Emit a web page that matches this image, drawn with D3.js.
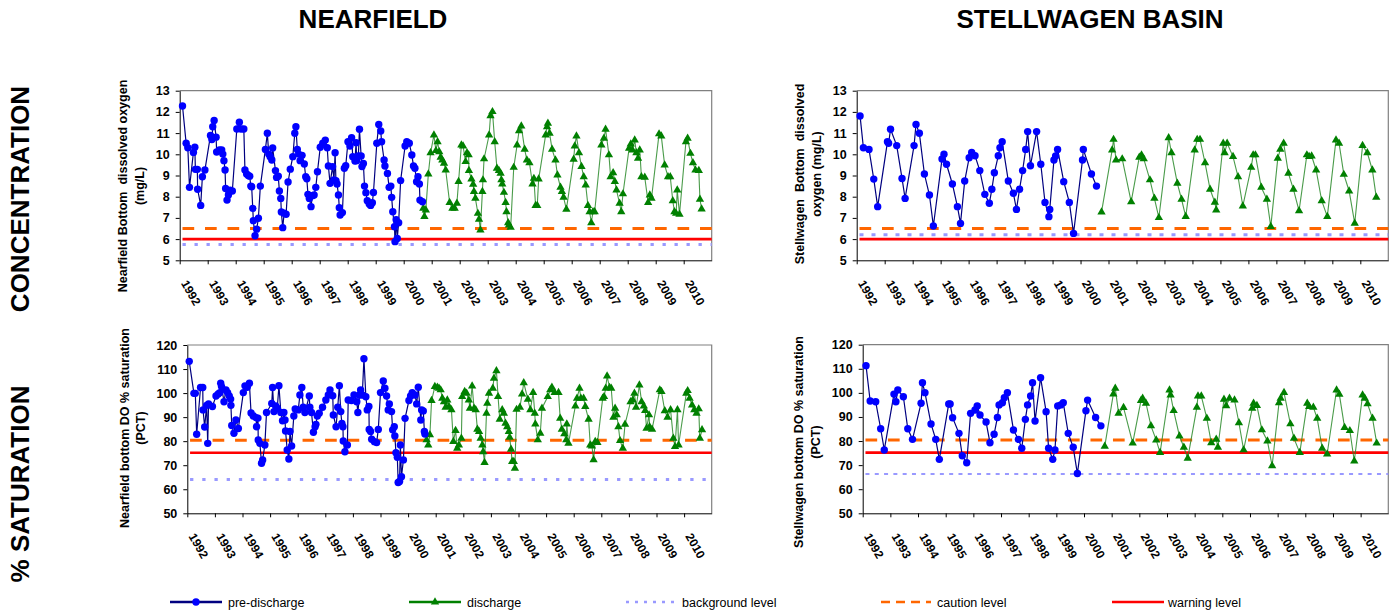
<!DOCTYPE html>
<html><head><meta charset="utf-8">
<script src="https://cdn.jsdelivr.net/npm/d3@7"></script>
<style>
body{margin:0;background:#fff;}
svg{display:block;font-family:Arial,"Liberation Sans",sans-serif;}
</style>
</head><body>
<svg id="chart" width="1393" height="616"></svg>
<script>
// ---------------- DATA ----------------
const years = [1992,1993,1994,1995,1996,1997,1998,1999,2000,2001,2002,2003,2004,2005,2006,2007,2008,2009,2010];
const concTicks = [5,6,7,8,9,10,11,12,13];
const satTicks = [50,60,70,80,90,100,110,120];
const columnTitles = ['NEARFIELD','STELLWAGEN BASIN'];
const rowTitles = ['CONCENTRATION','% SATURATION'];
const seriesNames = ['pre-discharge','discharge'];
const levelNames = ['background level','caution level','warning level'];

// levels: [background, caution, warning]
const nfConcLevels = [5.75, 6.5, 6.0];
const swConcLevels = [6.2, 6.5, 6.0];
const nfSatLevels = [64.1, 80.4, 75.2];
const swSatLevels = [66.3, 80.4, 75.2];

// [decimal year, value]
const nfConcPre = [[1992.10,12.28],[1992.23,10.52],[1992.29,10.31],[1992.35,8.44],[1992.49,10.09],[1992.54,10.33],[1992.56,9.29],[1992.63,9.29],[1992.64,8.35],[1992.75,7.59],[1992.81,8.94],[1992.90,9.26],[1993.10,10.89],[1993.15,10.70],[1993.18,11.30],[1993.23,11.60],[1993.30,10.81],[1993.32,10.11],[1993.42,10.20],[1993.50,10.20],[1993.54,10.01],[1993.58,9.70],[1993.62,9.26],[1993.64,8.39],[1993.69,7.84],[1993.74,8.08],[1993.80,8.31],[1993.88,8.27],[1994.04,11.19],[1994.13,11.51],[1994.19,11.19],[1994.29,11.19],[1994.33,9.26],[1994.39,9.07],[1994.45,9.00],[1994.50,8.97],[1994.54,8.50],[1994.57,8.47],[1994.61,7.45],[1994.63,6.87],[1994.69,6.16],[1994.75,6.47],[1994.81,6.98],[1994.88,8.50],[1995.06,10.23],[1995.13,10.99],[1995.18,10.01],[1995.23,9.89],[1995.29,9.73],[1995.32,10.30],[1995.42,9.23],[1995.46,8.91],[1995.52,8.97],[1995.56,8.27],[1995.61,7.92],[1995.63,7.28],[1995.68,6.54],[1995.73,7.22],[1995.80,7.17],[1995.87,8.69],[1995.95,9.30],[1996.04,9.89],[1996.11,10.99],[1996.15,11.30],[1996.20,10.23],[1996.25,10.01],[1996.30,9.70],[1996.37,9.95],[1996.45,9.54],[1996.50,8.94],[1996.54,8.85],[1996.58,8.11],[1996.63,7.92],[1996.69,7.53],[1996.74,8.05],[1996.80,8.08],[1996.86,8.44],[1996.92,9.18],[1997.02,10.33],[1997.11,10.52],[1997.20,10.67],[1997.27,10.31],[1997.31,9.45],[1997.37,8.63],[1997.46,9.42],[1997.51,8.79],[1997.55,10.07],[1997.58,8.76],[1997.62,8.60],[1997.67,8.08],[1997.70,7.48],[1997.73,7.14],[1997.81,7.25],[1997.88,9.34],[1997.93,9.46],[1998.01,10.59],[1998.08,10.39],[1998.14,10.78],[1998.18,9.89],[1998.26,9.68],[1998.30,10.55],[1998.32,9.70],[1998.38,9.92],[1998.42,11.18],[1998.48,9.92],[1998.51,9.42],[1998.56,9.57],[1998.60,8.50],[1998.65,8.19],[1998.70,7.81],[1998.77,7.65],[1998.82,7.59],[1998.88,7.72],[1998.92,8.20],[1999.04,10.52],[1999.11,11.41],[1999.18,11.10],[1999.21,10.59],[1999.30,9.73],[1999.33,9.45],[1999.42,9.10],[1999.48,8.44],[1999.54,8.50],[1999.57,7.97],[1999.61,7.29],[1999.67,6.58],[1999.69,5.88],[1999.73,6.91],[1999.77,6.03],[1999.82,6.77],[1999.89,8.76],[2000.05,10.39],[2000.11,10.59],[2000.20,10.52],[2000.29,9.97],[2000.35,9.45],[2000.40,9.34],[2000.46,8.71],[2000.51,8.94],[2000.56,8.60],[2000.58,7.84],[2000.67,7.76]];
const nfConcDis = [[2000.70,7.45],[2000.74,7.06],[2000.79,7.37],[2000.88,9.07],[2000.96,10.07],[2001.08,10.91],[2001.15,10.17],[2001.21,10.59],[2001.27,10.12],[2001.32,9.86],[2001.38,9.73],[2001.44,9.57],[2001.50,9.26],[2001.64,7.72],[2001.74,7.45],[2001.82,7.45],[2001.90,7.69],[2001.96,8.71],[2002.06,10.44],[2002.12,10.39],[2002.21,9.65],[2002.26,10.07],[2002.32,9.97],[2002.33,9.23],[2002.42,8.83],[2002.48,8.58],[2002.51,8.24],[2002.56,7.92],[2002.65,7.21],[2002.69,6.93],[2002.74,6.43],[2002.81,8.24],[2002.83,8.79],[2002.87,9.78],[2003.05,10.91],[2003.10,11.81],[2003.17,12.01],[2003.25,10.59],[2003.33,9.34],[2003.40,9.23],[2003.46,9.10],[2003.49,8.79],[2003.52,8.60],[2003.58,8.20],[2003.64,7.72],[2003.67,7.29],[2003.73,6.77],[2003.76,6.66],[2003.82,6.55],[2003.93,9.38],[2004.05,10.44],[2004.12,11.11],[2004.20,11.33],[2004.32,10.23],[2004.40,9.73],[2004.49,9.60],[2004.60,8.60],[2004.65,8.86],[2004.71,7.58],[2004.77,7.58],[2004.82,8.83],[2005.07,10.91],[2005.12,11.30],[2005.15,11.46],[2005.21,10.99],[2005.30,10.23],[2005.42,9.73],[2005.49,9.02],[2005.60,8.44],[2005.65,8.24],[2005.71,7.97],[2005.81,7.40],[2006.07,9.76],[2006.11,10.39],[2006.17,10.86],[2006.26,10.07],[2006.35,9.42],[2006.43,8.94],[2006.50,8.55],[2006.58,7.58],[2006.64,7.29],[2006.70,6.77],[2006.76,7.29],[2006.82,7.29],[2007.06,10.44],[2007.15,10.75],[2007.21,11.18],[2007.33,9.97],[2007.39,8.94],[2007.48,9.13],[2007.54,8.71],[2007.60,8.31],[2007.71,7.69],[2007.77,7.29],[2007.83,8.13],[2008.05,10.28],[2008.11,10.48],[2008.17,10.20],[2008.25,10.67],[2008.31,10.07],[2008.37,9.81],[2008.43,10.20],[2008.49,8.94],[2008.61,8.91],[2008.73,7.72],[2008.79,8.08],[2008.85,7.92],[2009.12,10.96],[2009.20,10.86],[2009.32,9.49],[2009.44,8.94],[2009.52,8.94],[2009.61,7.81],[2009.67,7.29],[2009.73,7.21],[2009.77,8.31],[2009.85,7.17],[2010.08,10.59],[2010.14,10.75],[2010.24,10.04],[2010.33,9.60],[2010.42,9.26],[2010.54,9.23],[2010.58,7.88],[2010.64,7.42]];

const swConcPre = [[1992.12,11.81],[1992.24,10.31],[1992.44,10.23],[1992.61,8.83],[1992.75,7.53],[1993.10,10.59],[1993.14,10.52],[1993.21,11.18],[1993.43,10.41],[1993.62,8.86],[1993.73,7.92],[1994.05,10.41],[1994.12,11.41],[1994.24,10.99],[1994.42,9.07],[1994.60,8.08],[1994.74,6.62],[1995.05,9.78],[1995.12,10.00],[1995.21,9.53],[1995.42,8.60],[1995.60,7.53],[1995.71,6.74],[1995.86,8.74],[1996.02,9.84],[1996.11,10.09],[1996.23,9.93],[1996.40,9.23],[1996.58,8.11],[1996.74,7.69],[1996.83,8.35],[1996.92,9.13],[1997.06,9.93],[1997.12,10.31],[1997.20,10.59],[1997.42,8.74],[1997.60,8.16],[1997.71,7.40],[1997.82,8.35],[1997.93,9.23],[1998.04,10.23],[1998.11,11.07],[1998.21,9.46],[1998.43,11.07],[1998.58,9.53],[1998.73,7.73],[1998.87,7.06],[1998.90,7.40],[1999.05,9.73],[1999.11,9.92],[1999.18,10.23],[1999.40,8.71],[1999.60,7.73],[1999.75,6.27],[2000.07,9.73],[2000.10,10.23],[2000.39,9.07],[2000.57,8.50]];
const swConcDis = [[2000.75,7.27],[2001.13,10.20],[2001.18,10.70],[2001.27,9.73],[2001.49,9.78],[2001.81,7.76],[2002.10,9.86],[2002.18,9.97],[2002.26,9.78],[2002.48,8.79],[2002.64,7.92],[2002.80,7.01],[2003.15,10.78],[2003.25,10.07],[2003.46,8.63],[2003.61,7.88],[2003.76,7.06],[2004.08,10.20],[2004.17,10.70],[2004.27,10.70],[2004.45,9.60],[2004.63,8.35],[2004.80,7.73],[2004.85,7.37],[2005.10,10.52],[2005.15,10.07],[2005.24,10.52],[2005.45,9.89],[2005.63,8.94],[2005.80,7.56],[2006.10,9.38],[2006.17,9.97],[2006.25,9.97],[2006.46,8.44],[2006.66,7.88],[2006.80,6.59],[2007.05,9.81],[2007.14,10.23],[2007.26,10.52],[2007.43,9.10],[2007.61,8.35],[2007.81,7.33],[2008.09,9.97],[2008.17,9.89],[2008.26,9.92],[2008.42,9.26],[2008.62,7.81],[2008.82,7.06],[2009.13,10.67],[2009.24,10.52],[2009.41,9.05],[2009.60,8.27],[2009.80,6.74],[2010.08,10.41],[2010.25,10.07],[2010.43,9.26],[2010.57,7.97]];

const nfSatPre = [[1992.07,113.2],[1992.24,99.9],[1992.29,99.9],[1992.34,82.9],[1992.48,102.3],[1992.56,102.3],[1992.57,93.0],[1992.63,85.9],[1992.70,94.9],[1992.74,79.1],[1992.77,95.5],[1992.91,94.4],[1993.04,98.8],[1993.12,99.6],[1993.18,100.2],[1993.21,104.1],[1993.24,102.7],[1993.33,96.4],[1993.40,101.3],[1993.46,100.2],[1993.52,98.8],[1993.57,97.5],[1993.58,94.9],[1993.61,86.5],[1993.69,83.3],[1993.76,88.8],[1993.85,85.3],[1994.03,100.2],[1994.09,103.0],[1994.17,102.4],[1994.25,104.1],[1994.31,91.7],[1994.39,90.5],[1994.49,89.8],[1994.51,86.0],[1994.56,89.6],[1994.57,80.5],[1994.63,79.1],[1994.69,70.8],[1994.73,72.2],[1994.81,78.4],[1994.87,91.9],[1995.06,95.7],[1995.09,102.3],[1995.14,92.3],[1995.20,94.6],[1995.26,93.7],[1995.32,103.1],[1995.39,91.9],[1995.45,88.5],[1995.50,91.9],[1995.54,88.8],[1995.56,84.2],[1995.62,76.3],[1995.68,72.6],[1995.72,84.0],[1995.78,78.0],[1995.86,90.5],[1995.91,93.4],[1996.02,93.0],[1996.08,99.2],[1996.15,102.3],[1996.20,94.1],[1996.26,91.9],[1996.42,98.8],[1996.44,94.1],[1996.50,91.9],[1996.57,83.7],[1996.63,86.0],[1996.66,87.0],[1996.71,90.5],[1996.78,91.6],[1996.90,94.1],[1997.02,97.1],[1997.11,99.2],[1997.17,101.3],[1997.27,98.9],[1997.29,90.9],[1997.39,86.0],[1997.45,94.1],[1997.51,103.1],[1997.56,92.3],[1997.60,87.4],[1997.64,86.0],[1997.65,80.1],[1997.71,75.6],[1997.80,78.4],[1997.83,97.1],[1997.95,96.9],[1998.04,99.2],[1998.14,96.4],[1998.18,91.9],[1998.24,99.2],[1998.28,101.3],[1998.34,99.2],[1998.40,114.3],[1998.47,98.5],[1998.52,93.0],[1998.58,94.4],[1998.59,84.9],[1998.64,84.0],[1998.68,80.8],[1998.78,79.8],[1998.86,79.4],[1998.92,84.9],[1999.00,100.2],[1999.10,105.0],[1999.16,102.0],[1999.22,98.8],[1999.28,93.0],[1999.32,95.5],[1999.40,92.3],[1999.44,84.7],[1999.50,86.0],[1999.52,82.2],[1999.56,75.2],[1999.61,73.3],[1999.64,62.8],[1999.69,63.2],[1999.72,78.4],[1999.76,65.2],[1999.83,72.2],[1999.89,89.5],[2000.03,96.9],[2000.09,98.8],[2000.15,100.2],[2000.25,99.2],[2000.31,95.5],[2000.37,102.4],[2000.46,88.8],[2000.49,93.0],[2000.55,92.6],[2000.59,84.0],[2000.61,83.0]];
const nfSatDis = [[2000.67,80.5],[2000.73,78.4],[2000.79,82.6],[2000.85,96.9],[2000.97,102.7],[2001.06,102.4],[2001.12,102.0],[2001.18,101.3],[2001.24,97.8],[2001.30,96.4],[2001.36,94.1],[2001.42,97.1],[2001.48,94.4],[2001.57,93.0],[2001.64,79.8],[2001.72,84.4],[2001.78,77.0],[2001.84,78.4],[2001.93,81.2],[2001.96,98.5],[2002.05,100.6],[2002.12,99.9],[2002.20,97.1],[2002.24,93.7],[2002.32,102.9],[2002.39,93.7],[2002.45,93.0],[2002.51,84.9],[2002.57,84.0],[2002.63,81.2],[2002.69,78.4],[2002.72,75.6],[2002.77,71.1],[2002.84,91.6],[2002.87,95.7],[2002.93,99.9],[2003.07,102.0],[2003.11,106.1],[2003.20,109.3],[2003.26,98.5],[2003.32,89.1],[2003.41,93.0],[2003.47,91.6],[2003.53,87.4],[2003.59,86.0],[2003.65,84.0],[2003.68,81.6],[2003.73,76.6],[2003.77,71.5],[2003.83,71.5],[2003.87,68.7],[2003.93,93.2],[2004.05,94.1],[2004.13,99.6],[2004.19,104.3],[2004.34,97.4],[2004.43,93.0],[2004.53,100.2],[2004.59,91.6],[2004.61,87.1],[2004.70,80.5],[2004.79,83.3],[2004.85,93.7],[2005.06,98.5],[2005.15,101.3],[2005.21,102.4],[2005.31,100.2],[2005.45,100.2],[2005.51,89.5],[2005.57,84.9],[2005.66,83.0],[2005.73,80.5],[2005.75,87.1],[2005.81,79.1],[2006.06,94.6],[2006.12,97.8],[2006.21,102.0],[2006.26,97.8],[2006.36,97.8],[2006.42,94.4],[2006.54,89.1],[2006.60,78.4],[2006.66,78.0],[2006.72,72.2],[2006.78,79.8],[2006.86,79.4],[2007.05,97.8],[2007.10,98.5],[2007.16,102.0],[2007.21,107.1],[2007.30,102.3],[2007.36,102.0],[2007.44,89.9],[2007.50,93.7],[2007.56,90.9],[2007.62,86.0],[2007.68,80.2],[2007.78,77.0],[2007.86,87.0],[2008.06,96.4],[2008.14,97.1],[2008.20,99.9],[2008.26,94.1],[2008.38,103.3],[2008.46,96.4],[2008.54,94.6],[2008.59,92.7],[2008.64,85.3],[2008.73,90.9],[2008.75,86.0],[2008.84,84.9],[2009.12,101.3],[2009.18,100.6],[2009.30,92.6],[2009.40,89.9],[2009.51,93.0],[2009.61,81.2],[2009.67,77.7],[2009.76,93.0],[2009.80,78.4],[2010.08,99.9],[2010.13,101.0],[2010.20,97.8],[2010.29,95.0],[2010.37,93.0],[2010.45,91.6],[2010.53,93.4],[2010.57,81.2],[2010.65,84.7]];

const swSatPre = [[1992.12,111.3],[1992.27,96.6],[1992.47,96.3],[1992.65,85.1],[1992.78,76.3],[1993.13,99.5],[1993.20,96.3],[1993.27,101.2],[1993.47,98.4],[1993.63,85.1],[1993.80,80.7],[1994.11,95.7],[1994.16,104.2],[1994.25,100.1],[1994.47,87.1],[1994.64,80.7],[1994.77,72.4],[1995.11,95.4],[1995.16,95.4],[1995.25,89.7],[1995.48,83.2],[1995.60,73.9],[1995.76,71.0],[1995.90,91.5],[1996.06,92.9],[1996.14,94.6],[1996.24,90.8],[1996.46,87.9],[1996.60,79.3],[1996.75,82.8],[1996.87,89.8],[1996.93,95.0],[1997.05,95.9],[1997.12,98.0],[1997.23,100.1],[1997.45,84.6],[1997.63,80.7],[1997.75,77.0],[1997.88,89.0],[1997.96,95.0],[1998.07,98.7],[1998.14,104.2],[1998.23,88.3],[1998.43,106.3],[1998.63,92.2],[1998.72,77.0],[1998.87,72.4],[1998.95,76.3],[1999.05,94.6],[1999.16,95.0],[1999.25,95.9],[1999.43,83.2],[1999.61,77.4],[1999.76,66.5],[2000.07,92.6],[2000.13,97.0],[2000.42,89.8],[2000.61,86.3]];
const swSatDis = [[2000.75,77.8],[2001.06,99.5],[2001.13,101.9],[2001.25,91.5],[2001.43,93.9],[2001.76,79.1],[2002.06,96.8],[2002.12,97.7],[2002.24,95.7],[2002.42,86.3],[2002.61,80.4],[2002.75,75.2],[2003.09,101.2],[2003.13,99.1],[2003.24,92.6],[2003.45,82.1],[2003.61,77.4],[2003.75,72.8],[2004.08,94.0],[2004.12,98.7],[2004.24,98.7],[2004.44,89.4],[2004.60,79.3],[2004.78,80.7],[2004.84,77.4],[2005.06,97.3],[2005.14,94.6],[2005.26,97.7],[2005.44,97.0],[2005.60,87.6],[2005.77,76.3],[2006.08,93.6],[2006.13,95.7],[2006.25,94.7],[2006.43,84.6],[2006.63,80.0],[2006.80,69.7],[2007.05,95.9],[2007.11,97.7],[2007.23,100.1],[2007.46,87.1],[2007.59,81.1],[2007.80,75.2],[2008.07,95.7],[2008.14,94.3],[2008.29,94.0],[2008.43,89.4],[2008.61,77.0],[2008.79,74.6],[2009.13,101.2],[2009.23,99.4],[2009.42,85.6],[2009.61,84.3],[2009.77,71.7],[2010.07,99.1],[2010.15,97.7],[2010.25,95.4],[2010.43,89.4],[2010.58,79.1]];

// ---------------- STYLE / LAYOUT ----------------
const C = {
  preLine:'#000080', preFill:'#0000ff',
  disLine:'#2a8a2a', disFill:'#008000',
  bg:'#9999ff', caution:'#ff6600', warning:'#ff0000',
  frame:'#808080'
};
const panels = [
  {pre:nfConcPre, dis:nfConcDis, levels:nfConcLevels, ticks:concTicks, dom:[5,13],
   box:{l:179.7,r:711.7,t:90.7,b:260.3}, title:['Nearfield Bottom  dissolved oxygen','(mg/L)'],
   tx:[127,144], ty:186, bgDash:'3.3,8.7', bgW:3},
  {pre:swConcPre, dis:swConcDis, levels:swConcLevels, ticks:concTicks, dom:[5,13],
   box:{l:856.7,r:1388.3,t:90.7,b:260.3}, title:['Stellwagen  Bottom  dissolved','oxygen (mg/L)'],
   tx:[804,821], ty:174, bgDash:'4,8', bgW:3},
  {pre:nfSatPre, dis:nfSatDis, levels:nfSatLevels, ticks:satTicks, dom:[50,120],
   box:{l:187.3,r:711.7,t:345,b:513.3}, title:['Nearfield bottom DO % saturation','(PCT)'],
   tx:[129,145], ty:428, bgDash:'3.3,8.9', bgW:3},
  {pre:swSatPre, dis:swSatDis, levels:swSatLevels, ticks:satTicks, dom:[50,120],
   box:{l:862.7,r:1388.3,t:344.7,b:513.3}, title:['Stellwagen bottom DO % saturation','(PCT)'],
   tx:[803,820], ty:442, bgDash:'4,5.3', bgW:2}
];

const svg = d3.select('#chart');

// Titles
const colX = [373, 1090];
svg.selectAll('text.coltitle').data(columnTitles).join('text')
  .attr('class','coltitle').attr('x',(d,i)=>colX[i]).attr('y',28)
  .attr('text-anchor','middle').style('font-size','26px').style('font-weight','bold').text(d=>d);
const rowY = [199, 484];
svg.selectAll('text.rowtitle').data(rowTitles).join('text')
  .attr('class','rowtitle').attr('transform',(d,i)=>`translate(29,${rowY[i]}) rotate(-90)`)
  .attr('text-anchor','middle').style('font-size','26px').style('font-weight','bold').text(d=>d);

const triangle = d3.symbol().type(d3.symbolTriangle).size(30);

panels.forEach(p => {
  const x = d3.scaleLinear().domain([1992, 2011]).range([p.box.l, p.box.r]);
  const y = d3.scaleLinear().domain(p.dom).range([p.box.b, p.box.t]);
  const g = svg.append('g');

  // frame (top & right in gray)
  g.append('path').attr('d', `M${p.box.l},${p.box.t}H${p.box.r}V${p.box.b}`)
    .attr('fill','none').attr('stroke',C.frame).attr('stroke-width',1.2);

  // reference levels
  const lv = [
    {v:p.levels[0], c:C.bg, w:p.bgW, dash:p.bgDash},
    {v:p.levels[1], c:C.caution, w:3, dash:'11.7,10.8'},
    {v:p.levels[2], c:C.warning, w:2.6, dash:null}
  ];
  g.selectAll('line.lv').data(lv).join('line')
    .attr('x1', x(1992.1)).attr('x2', p.box.r)
    .attr('y1', d=>y(d.v)).attr('y2', d=>y(d.v))
    .attr('stroke', d=>d.c).attr('stroke-width', d=>d.w)
    .attr('stroke-dasharray', d=>d.dash);

  // y axis
  const ya = g.append('g').attr('transform',`translate(${p.box.l},0)`)
    .call(d3.axisLeft(y).tickValues(p.ticks).tickSize(4).tickSizeOuter(0).tickPadding(6));
  ya.selectAll('text').style('font-size','12.5px').style('font-weight','bold').attr('fill','#000');
  ya.select('.domain').attr('stroke','#000');

  // x axis
  const xa = g.append('g').attr('transform',`translate(0,${p.box.b})`)
    .call(d3.axisBottom(x).tickValues(years).tickSize(4).tickSizeOuter(0).tickFormat(d3.format('d')));
  xa.select('.domain').attr('stroke','#000');
  xa.selectAll('text').attr('x',0).attr('y',0).attr('dy',0)
    .attr('transform','translate(0.5,23) rotate(60)')
    .style('text-anchor','start').style('font-size','12px').style('font-weight','bold').attr('fill','#000');

  // axis title
  const tt = g.append('g');
  p.title.forEach((t,i) => {
    tt.append('text').attr('transform',`translate(${p.tx[i]},${p.ty}) rotate(-90)`)
      .attr('text-anchor','middle').style('font-size','12.5px').style('font-weight','bold')
      .style('white-space','pre').text(t);
  });

  // series
  const line = d3.line().x(d=>x(d[0])).y(d=>y(d[1]));
  g.append('path').datum(p.dis).attr('d',line).attr('fill','none')
    .attr('stroke',C.disLine).attr('stroke-width',1.1).attr('stroke-opacity',0.85);
  g.selectAll('path.tri').data(p.dis).join('path').attr('class','tri')
    .attr('d',triangle).attr('transform',d=>`translate(${x(d[0])},${y(d[1])})`)
    .attr('fill',C.disFill);
  g.append('path').datum(p.pre).attr('d',line).attr('fill','none')
    .attr('stroke',C.preLine).attr('stroke-width',1.2);
  g.selectAll('circle.pt').data(p.pre).join('circle').attr('class','pt')
    .attr('cx',d=>x(d[0])).attr('cy',d=>y(d[1])).attr('r',3.7).attr('fill',C.preFill);
});

// Legend
const legendItems = [
  {name:seriesNames[0], x0:170, x1:222, tx:228, c:C.preLine, w:2.5, dash:null, mark:'circle'},
  {name:seriesNames[1], x0:409, x1:461, tx:467, c:C.disFill, w:2.5, dash:null, mark:'tri'},
  {name:levelNames[0], x0:626, x1:676, tx:682, c:C.bg, w:2.5, dash:'3,6', mark:null},
  {name:levelNames[1], x0:881, x1:931, tx:937, c:C.caution, w:2.5, dash:'9,6', mark:null},
  {name:levelNames[2], x0:1112, x1:1164, tx:1168, c:C.warning, w:2.5, dash:null, mark:null}
];
const ly = 602;
const lg = svg.append('g');
legendItems.forEach(it => {
  lg.append('line').attr('x1',it.x0).attr('x2',it.x1).attr('y1',ly).attr('y2',ly)
    .attr('stroke',it.c).attr('stroke-width',it.w).attr('stroke-dasharray',it.dash);
  const mx = (it.x0+it.x1)/2;
  if (it.mark==='circle') lg.append('circle').attr('cx',mx).attr('cy',ly).attr('r',3.7).attr('fill',C.preFill);
  if (it.mark==='tri') lg.append('path').attr('d',triangle).attr('transform',`translate(${mx},${ly})`).attr('fill',C.disFill);
  lg.append('text').attr('x',it.tx).attr('y',ly+4.5).style('font-size','12.5px').text(it.name);
});
</script>
</body></html>
